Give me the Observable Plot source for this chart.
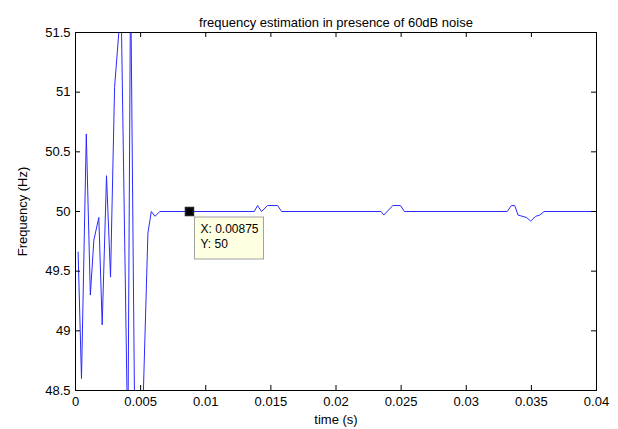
<!DOCTYPE html>
<html>
<head>
<meta charset="utf-8">
<script src="https://cdn.jsdelivr.net/npm/d3@7"></script>
<script src="https://cdn.jsdelivr.net/npm/@observablehq/plot@0.6"></script>
<style>
  html, body { margin: 0; padding: 0; background: white; }
  #chart svg { display: block; }
</style>
</head>
<body>
<div id="chart"></div>
<script>
// ---- data ----
const times = [
  0.0002, 0.00046, 0.00083, 0.00114, 0.00141, 0.00179, 0.00205, 0.00238, 0.00269, 0.00300,
  0.00350, 0.00402, 0.00423, 0.00469, 0.00556, 0.00582, 0.00610, 0.00648,
  0.01372, 0.01398, 0.01428, 0.01475, 0.01552, 0.01582,
  0.02346, 0.02367, 0.02436, 0.02495, 0.02525,
  0.03315, 0.03346, 0.03372, 0.03398, 0.03462, 0.03495, 0.03533, 0.03564, 0.03598,
  0.04
];
const freqs = [
  49.66, 48.60, 50.65, 49.30, 49.76, 49.95, 49.05, 50.30, 49.45, 51.04,
  51.75, 48.0, 52.0, 46.5, 49.82, 50.0, 49.96, 50.0,
  50.0, 50.05, 50.0, 50.05, 50.05, 50.0,
  50.0, 49.97, 50.05, 50.05, 50.0,
  50.0, 50.05, 50.05, 49.97, 49.95, 49.92, 49.96, 49.97, 50.0,
  50.0
];
const xTicks = [0, 0.005, 0.01, 0.015, 0.02, 0.025, 0.03, 0.035, 0.04];
const xTickLabels = ["0", "0.005", "0.01", "0.015", "0.02", "0.025", "0.03", "0.035", "0.04"];
const yTicks = [48.5, 49, 49.5, 50, 50.5, 51, 51.5];
const yTickLabels = ["48.5", "49", "49.5", "50", "50.5", "51", "51.5"];
const titleText = "frequency estimation in presence of 60dB noise";
const xLabel = "time (s)";
const yLabel = "Frequency (Hz)";
const dataTip = [{x: 0.00875, y: 50}];
const dataTipLines = ["X: 0.00875", "Y: 50"];

// ---- build ----
const series = times.map((t, i) => ({t, f: freqs[i]}));
const xFmt = new Map(xTicks.map((d, i) => [d, xTickLabels[i]]));
const yFmt = new Map(yTicks.map((d, i) => [d, yTickLabels[i]]));

const W = 618, H = 429;
const mT = 32, mR = 22, mB = 39, mL = 75;
const innerW = W - mL - mR, innerH = H - mT - mB;
const tickLen = 5;
const font = "'Liberation Sans', Arial, sans-serif";

function tipMark(...args) {
  const scales = args.find(a => a && typeof a.x === "function" && typeof a.y === "function");
  const g = d3.create("svg:g");
  for (const d of dataTip) {
    const px = scales.x(d.x), py = scales.y(d.y);
    const bx = px + 5.5, by = py + 6;
    g.append("rect")
      .attr("x", bx).attr("y", by).attr("width", 69).attr("height", 42)
      .attr("fill", "#ffffe1").attr("stroke", "#a0a0a0").attr("stroke-width", 1);
    dataTipLines.forEach((s, i) => {
      g.append("text")
        .attr("x", bx + 6).attr("y", by + 16 + i * 15)
        .attr("text-anchor", "start")
        .attr("font-family", font).attr("font-size", 12).attr("fill", "black")
        .text(s);
    });
  }
  return g.node();
}

const chart = Plot.plot({
  width: W, height: H,
  marginTop: mT, marginRight: mR, marginBottom: mB, marginLeft: mL,
  style: {fontFamily: font, fontSize: "13px", background: "white", color: "black"},
  x: {domain: [0, 0.04]},
  y: {domain: [48.5, 51.5]},
  marks: [
    Plot.line(series, {x: "t", y: "f", stroke: "#2a2aff", strokeWidth: 1, clip: true}),
    Plot.frame({stroke: "black", strokeWidth: 1}),
    Plot.tickX(xTicks, {x: d => d, insetTop: innerH - tickLen, stroke: "black"}),
    Plot.tickX(xTicks, {x: d => d, insetBottom: innerH - tickLen, stroke: "black"}),
    Plot.tickY(yTicks, {y: d => d, insetRight: innerW - tickLen, stroke: "black"}),
    Plot.tickY(yTicks, {y: d => d, insetLeft: innerW - tickLen, stroke: "black"}),
    Plot.axisX(xTicks, {tickSize: 0, tickPadding: 6, tickFormat: d => xFmt.get(d), fontSize: 13,
      label: xLabel, labelAnchor: "center", labelOffset: 33, labelArrow: "none"}),
    Plot.axisY(yTicks, {tickSize: 0, tickPadding: 5, tickFormat: d => yFmt.get(d), fontSize: 13,
      label: yLabel, labelAnchor: "center", labelOffset: 58, labelArrow: "none"}),
    Plot.text([titleText], {frameAnchor: "top", dy: -15, fontSize: 13, text: d => d}),
    Plot.dot(dataTip, {x: "x", y: "y", symbol: "square", r: 4.5, fill: "black", stroke: "#222"}),
    tipMark
  ]
});
document.getElementById("chart").appendChild(chart);
</script>
</body>
</html>
